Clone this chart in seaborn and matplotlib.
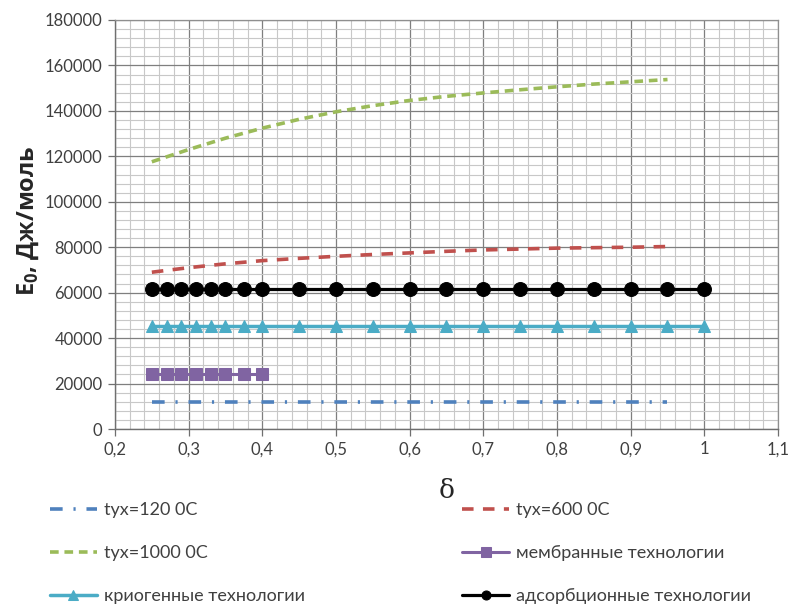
import numpy as np
import pandas as pd
import matplotlib
matplotlib.use("Agg")
import matplotlib.pyplot as plt
import seaborn as sns
from matplotlib.ticker import MultipleLocator

# ---- data ----
x_temp = [0.25, 0.30, 0.35, 0.40, 0.45, 0.50, 0.55, 0.60, 0.65, 0.70, 0.75, 0.80, 0.85, 0.90, 0.95]
y_t120 = [12000] * 15
y_t600 = [69000, 71000, 72700, 74100, 75100, 76000, 76800, 77500, 78200, 78800, 79200, 79600, 79800, 80000, 80300]
y_t1000 = [117600, 123000, 128000, 132400, 136300, 139600, 142300, 144600, 146400, 147900, 149300, 150600, 151800, 152800, 153800]

x_membr = [0.25, 0.27, 0.29, 0.31, 0.33, 0.35, 0.375, 0.40]
y_membr = [24000] * 8

x_tech = [0.25, 0.27, 0.29, 0.31, 0.33, 0.35, 0.375, 0.40, 0.45, 0.50, 0.55, 0.60, 0.65, 0.70, 0.75, 0.80, 0.85, 0.90, 0.95, 1.00]
y_cryo = [45500] * 20
y_adsorb = [61500] * 20

labels = ["tyx=120 0C", "tyx=600 0C", "tyx=1000 0C",
          "мембранные технологии", "криогенные технологии", "адсорбционные технологии"]
x_ticks = [0.2, 0.3, 0.4, 0.5, 0.6, 0.7, 0.8, 0.9, 1.0, 1.1]
x_ticklabels = ["0,2", "0,3", "0,4", "0,5", "0,6", "0,7", "0,8", "0,9", "1", "1,1"]
y_ticks = [0, 20000, 40000, 60000, 80000, 100000, 120000, 140000, 160000, 180000]

# ---- style ----
sns.set_style("white")
plt.rcParams['font.family'] = ['Lato', 'Open Sans', 'DejaVu Sans']

fig = plt.figure(figsize=(7.91, 6.07), dpi=100)
ax = fig.add_axes([115/791, 1 - 429/607, (778-115)/791, (429-20)/607])

c_blue = "#4F81BD"
c_red = "#C0504D"
c_green = "#9BBB59"
c_purple = "#8064A2"
c_teal = "#4BACC6"
c_black = "#000000"

sns.lineplot(x=x_temp, y=y_t120, ax=ax, color=c_blue, linewidth=2.6,
             linestyle=(0, (3.5, 3, 0.6, 3)), label=labels[0])
sns.lineplot(x=x_temp, y=y_t600, ax=ax, color=c_red, linewidth=2.6,
             linestyle=(0, (3.2, 2.6)), label=labels[1])
sns.lineplot(x=x_temp, y=y_t1000, ax=ax, color=c_green, linewidth=2.6,
             linestyle=(0, (2.4, 1.6)), label=labels[2])
sns.lineplot(x=x_membr, y=y_membr, ax=ax, color=c_purple, linewidth=2.2,
             marker="s", markersize=8, markeredgecolor=c_purple, markerfacecolor=c_purple,
             label=labels[3])
sns.lineplot(x=x_tech, y=y_cryo, ax=ax, color=c_teal, linewidth=2.5,
             marker="^", markersize=8.5, markeredgecolor=c_teal, markerfacecolor=c_teal,
             label=labels[4])
sns.lineplot(x=x_tech, y=y_adsorb, ax=ax, color=c_black, linewidth=2.3,
             marker="o", markersize=10, markeredgecolor=c_black, markerfacecolor=c_black,
             label=labels[5])

ax.set_xlim(0.2, 1.1)
ax.set_ylim(0, 180000)
ax.set_xticks(x_ticks)
ax.set_xticklabels(x_ticklabels)
ax.set_yticks(y_ticks)
ax.set_yticklabels([str(v) for v in y_ticks])
ax.xaxis.set_minor_locator(MultipleLocator(0.02))
ax.yaxis.set_minor_locator(MultipleLocator(4000))
ax.grid(which="major", color="#7f7f7f", linewidth=0.9)
ax.grid(which="minor", color="#c8c8c8", linewidth=0.8)
ax.set_axisbelow(True)
ax.tick_params(axis="both", which="major", labelsize=12,
               direction="out", length=5, width=0.9, left=True, bottom=True, pad=4,
               color="#6f6f6f")
ax.tick_params(axis="both", which="minor", length=0)
for lab in ax.get_xticklabels() + ax.get_yticklabels():
    lab.set_color("#404040")
for s in ["left", "bottom"]:
    ax.spines[s].set_color("#6f6f6f")
    ax.spines[s].set_linewidth(1.0)
for s in ["top", "right"]:
    ax.spines[s].set_color("#8f8f8f")
    ax.spines[s].set_linewidth(0.9)

ax.set_xlabel("δ", fontsize=19, family=["DejaVu Serif"], labelpad=15)
ax.set_ylabel(r"E$_\mathregular{0}$, Дж/моль", fontsize=17, fontweight="bold",
              family=["Open Sans", "DejaVu Sans"])
ax.yaxis.set_label_coords(-0.112, 0.51)

handles, labs = ax.get_legend_handles_labels()
ax.legend_.remove()
order = [0, 2, 4, 1, 3, 5]
leg = fig.legend([handles[i] for i in order], [labs[i] for i in order],
                 loc="upper left", bbox_to_anchor=(50/791, 1 - 502/607),
                 ncol=2, frameon=False, fontsize=13, handlelength=2.6,
                 handletextpad=0.4, labelspacing=1.5, columnspacing=8.7,
                 borderaxespad=0, borderpad=0)
for t in leg.get_texts():
    t.set_color("#404040")
for lh in leg.legend_handles:
    try:
        lh.set_markersize(6.5)
    except Exception:
        pass

fig.savefig("out.png", dpi=100)
